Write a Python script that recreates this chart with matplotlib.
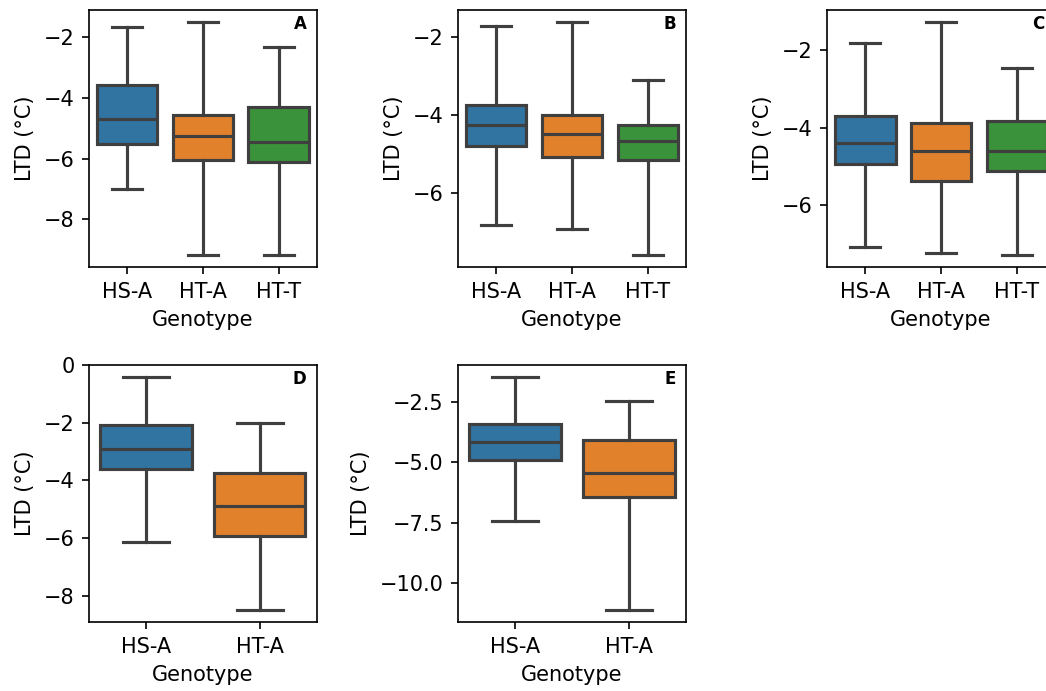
import numpy as np
import matplotlib
matplotlib.use("Agg")
import matplotlib.pyplot as plt
import matplotlib.gridspec as gridspec
from matplotlib.ticker import MultipleLocator

# ── LTD summaries per panel (whisker low, Q1, median, Q3, whisker high) ──
genotypes_3 = ["HS-A", "HT-A", "HT-T"]
genotypes_2 = ["HS-A", "HT-A"]

panel_a = [(-6.99, -5.52, -4.70, -3.60, -1.67),
           (-9.18, -6.04, -5.25, -4.56, -1.51),
           (-9.16, -6.11, -5.47, -4.32, -2.34)]
panel_b = [(-6.83, -4.79, -4.26, -3.75, -1.73),
           (-6.93, -5.07, -4.50, -4.00, -1.61),
           (-7.60, -5.16, -4.67, -4.26, -3.11)]
panel_c = [(-7.09, -4.93, -4.39, -3.70, -1.82),
           (-7.23, -5.38, -4.59, -3.87, -1.26),
           (-7.30, -5.13, -4.59, -3.83, -2.45)]
panel_d = [(-6.12, -3.62, -2.91, -2.09, -0.40),
           (-8.50, -5.91, -4.89, -3.76, -2.01)]
panel_e = [(-7.41, -4.90, -4.17, -3.43, -1.46),
           (-11.12, -6.43, -5.44, -4.10, -2.46)]

panel_letters = ["A", "B", "C", "D", "E"]

# seaborn-style desaturated tab10 palette
box_colors = ["#3274a1", "#e1812c", "#3a923a"]
line_gray = "#3f3f3f"


def draw_panel(ax, summaries, labels, letter):
    stats = []
    for (lo, q1, med, q3, hi), lab in zip(summaries, labels):
        stats.append({"whislo": lo, "q1": q1, "med": med, "q3": q3,
                      "whishi": hi, "label": lab, "fliers": []})
    pos = np.arange(len(stats))
    art = ax.bxp(stats, positions=pos, widths=0.8, patch_artist=True,
                 showfliers=False,
                 boxprops=dict(edgecolor=line_gray, linewidth=1.5),
                 whiskerprops=dict(color=line_gray, linewidth=1.5),
                 capprops=dict(color=line_gray, linewidth=1.5),
                 medianprops=dict(color=line_gray, linewidth=1.5))
    for patch, col in zip(art["boxes"], box_colors):
        patch.set_facecolor(col)
    ax.set_xlim(-0.5, len(stats) - 0.5)
    ax.set_xticks(pos)
    ax.set_xticklabels(labels)
    ax.set_xlabel("Genotype")
    ax.set_ylabel("LTD (°C)")
    ax.text(0.955, 0.98, letter, transform=ax.transAxes, ha="right",
            va="top", fontsize=8, fontweight="bold")
    return ax


fig = plt.figure(figsize=(1046 / 150, 691 / 150), dpi=150)
gs = gridspec.GridSpec(2, 3, figure=fig, left=0.0851, right=1.0086,
                       top=0.9855, bottom=0.0999, wspace=0.62, hspace=0.38)

panels = [(gs[0, 0], panel_a, genotypes_3),
          (gs[0, 1], panel_b, genotypes_3),
          (gs[0, 2], panel_c, genotypes_3),
          (gs[1, 0], panel_d, genotypes_2),
          (gs[1, 1], panel_e, genotypes_2)]

axes = []
for (spec, data, labels), letter in zip(panels, panel_letters):
    ax = fig.add_subplot(spec)
    axes.append(draw_panel(ax, data, labels, letter))

# panel E uses 2.5 °C steps
axes[4].yaxis.set_major_locator(MultipleLocator(2.5))

fig.savefig("out.png", dpi=150)
